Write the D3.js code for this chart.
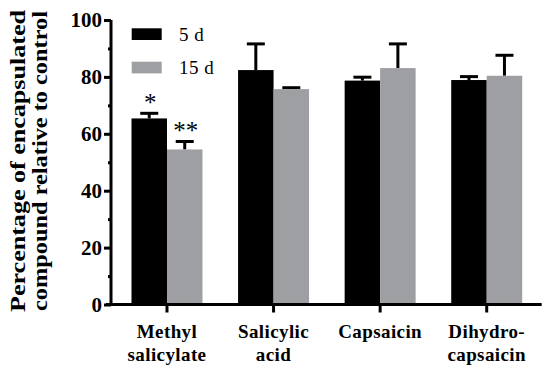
<!DOCTYPE html>
<html>
<head>
<meta charset="utf-8">
<script src="https://cdn.jsdelivr.net/npm/d3@7"></script>
<style>
  body { margin: 0; background: #fff; }
</style>
</head>
<body>
<svg id="chart" width="550" height="374" font-family="Liberation Serif"></svg>
<script>
const categories = [["Methyl", "salicylate"], ["Salicylic", "acid"], ["Capsaicin"], ["Dihydro-", "capsaicin"]];
const series = ["5 d", "15 d"];
const values5d = [65.4, 82.4, 78.7, 78.9];
const errors5d = [1.8, 9.2, 1.2, 1.2];
const values15d = [54.5, 75.7, 83.1, 80.4];
const errors15d = [2.8, 0.5, 8.5, 7.2];
const marks = [["*", "**"], ["", ""], ["", ""], ["", ""]];
const yTicks = [0, 20, 40, 60, 80, 100];
const yMinor = [10, 30, 50, 70, 90];

const colors = ["#000000", "#9e9fa3"];
const FONT = "Liberation Serif";

const svg = d3.select("#chart");

const x0 = d3.scaleBand()
  .domain(d3.range(categories.length))
  .range([113.7, 540])
  .paddingInner(0.334)
  .paddingOuter(0.167);

const x1 = d3.scaleBand()
  .domain(d3.range(series.length))
  .range([0, x0.bandwidth()]);

const y = d3.scaleLinear().domain([0, 100]).range([304.5, 20]);

const axisX = 111;

// bars
const rows = categories.map((c, i) => [
  { s: 0, v: values5d[i], e: errors5d[i], m: marks[i][0] },
  { s: 1, v: values15d[i], e: errors15d[i], m: marks[i][1] }
]);

const groups = svg.selectAll("g.cat")
  .data(rows)
  .join("g")
  .attr("class", "cat")
  .attr("transform", (d, i) => `translate(${x0(i)},0)`);

// error bars (one-sided)
groups.selectAll("line.err")
  .data(d => d)
  .join("line")
  .attr("class", "err")
  .attr("x1", d => x1(d.s) + x1.bandwidth() / 2)
  .attr("x2", d => x1(d.s) + x1.bandwidth() / 2)
  .attr("y1", d => y(d.v))
  .attr("y2", d => y(d.v + d.e))
  .attr("stroke", "#000")
  .attr("stroke-width", 3);

groups.selectAll("line.cap")
  .data(d => d)
  .join("line")
  .attr("class", "cap")
  .attr("x1", d => x1(d.s) + x1.bandwidth() / 2 - 9)
  .attr("x2", d => x1(d.s) + x1.bandwidth() / 2 + 9)
  .attr("y1", d => y(d.v + d.e))
  .attr("y2", d => y(d.v + d.e))
  .attr("stroke", "#000")
  .attr("stroke-width", 3);

groups.selectAll("rect")
  .data(d => d)
  .join("rect")
  .attr("x", d => x1(d.s))
  .attr("width", x1.bandwidth())
  .attr("y", d => y(d.v))
  .attr("height", d => y(0) - y(d.v))
  .attr("fill", d => colors[d.s]);

// significance marks
groups.selectAll("text.sig")
  .data(d => d.filter(e => e.m))
  .join("text")
  .attr("class", "sig")
  .attr("x", d => x1(d.s) + x1.bandwidth() / 2 + 1)
  .attr("y", d => y(d.v + d.e) - 2)
  .attr("text-anchor", "middle")
  .attr("font-family", FONT)
  .attr("font-size", 25)
  .text(d => d.m);

// y axis
const yAxis = svg.append("g")
  .attr("transform", `translate(${axisX},0)`)
  .call(d3.axisLeft(y).tickValues(yTicks).tickSize(7).tickPadding(2).tickFormat(d3.format("d")));

svg.append("g")
  .attr("transform", `translate(${axisX},0)`)
  .call(d3.axisLeft(y).tickValues(yMinor).tickSize(3).tickFormat(""))
  .call(g => g.select(".domain").remove());

svg.selectAll(".tick line, .domain")
  .attr("stroke", "#000")
  .attr("stroke-width", 3);
yAxis.select(".domain").attr("d", `M0,${y(100)}V${y(0)}`);

yAxis.attr("font-family", FONT);
yAxis.selectAll(".tick text")
  .attr("font-family", FONT)
  .attr("font-weight", "bold")
  .attr("font-size", 21)
  .attr("fill", "#000");

// x axis
const xAxis = svg.append("g")
  .attr("transform", `translate(0,${y(0)})`);

xAxis.append("line")
  .attr("x1", axisX - 5)
  .attr("x2", 541.7)
  .attr("stroke", "#000")
  .attr("stroke-width", 3);

xAxis.selectAll("line.xt")
  .data(categories)
  .join("line")
  .attr("class", "xt")
  .attr("x1", (d, i) => x0(i) + x0.bandwidth() / 2)
  .attr("x2", (d, i) => x0(i) + x0.bandwidth() / 2)
  .attr("y1", 0)
  .attr("y2", 8)
  .attr("stroke", "#000")
  .attr("stroke-width", 3);

const labels = svg.selectAll("text.cat")
  .data(categories)
  .join("text")
  .attr("class", "cat")
  .attr("text-anchor", "middle")
  .attr("font-family", FONT)
  .attr("font-weight", "bold")
  .attr("font-size", 19)
  .attr("letter-spacing", 0.4);

labels.selectAll("tspan")
  .data((d, i) => d.map(t => ({ t, i })))
  .join("tspan")
  .attr("x", d => x0(d.i) + x0.bandwidth() / 2)
  .attr("y", (d, j) => 338 + j * 23)
  .text(d => d.t);

// y title
const title = ["Percentage of encapsulated", "compound relative to control"];
svg.selectAll("text.ytitle")
  .data(title)
  .join("text")
  .attr("class", "ytitle")
  .attr("transform", (d, i) => `translate(${25 + i * 22},161) rotate(-90)`)
  .attr("text-anchor", "middle")
  .attr("font-family", FONT)
  .attr("font-weight", "bold")
  .attr("font-size", 21)
  .attr("textLength", (d, i) => i === 0 ? 302 : 300)
  .attr("lengthAdjust", "spacingAndGlyphs")
  .text(d => d);

// legend
const legend = svg.append("g");
legend.selectAll("rect")
  .data(series)
  .join("rect")
  .attr("x", 131.7)
  .attr("y", (d, i) => 28.3 + i * 33.4)
  .attr("width", 30)
  .attr("height", 11.7)
  .attr("fill", (d, i) => colors[i]);

legend.selectAll("text")
  .data(series)
  .join("text")
  .attr("x", 179)
  .attr("y", (d, i) => 41 + i * 33.4)
  .attr("font-family", FONT)
  .attr("font-size", 19)
  .attr("letter-spacing", 0.5)
  .text(d => d);
</script>
</body>
</html>
